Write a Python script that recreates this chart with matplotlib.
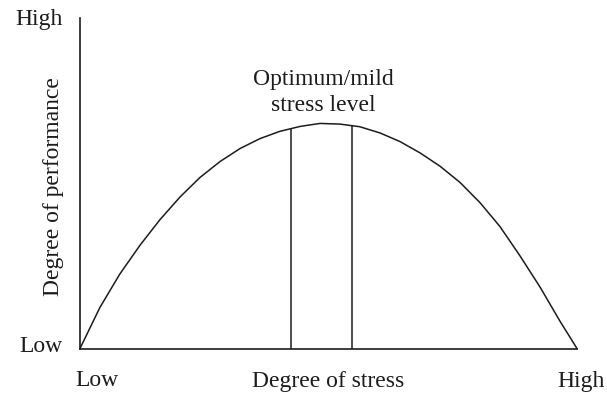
import matplotlib
matplotlib.use('Agg')
import matplotlib.pyplot as plt

W, H = 607, 396

# stress (% of axis) vs performance (% of axis), inverted-U curve
stress = [0, 4, 8, 12.1, 16.1, 20.1, 24.1, 28.2, 32.2, 36.2, 40.2, 44.3, 48.3,
          52.3, 56.3, 60.4, 64.4, 68.4, 72.4, 76.5, 80.5, 84.5, 88.5, 92.6,
          96.6, 100]
performance = [0, 12.4, 22.5, 31.3, 39.0, 45.8, 51.7, 56.6, 60.5, 63.5, 65.7,
               67.2, 68.1, 67.9, 67.1, 65.2, 62.6, 59.2, 55.2, 50.2, 44.1,
               36.9, 28.1, 18.5, 8.2, 0]

# bounds of the optimum band
optimum_stress = [42.45, 54.7]
optimum_performance = [66.4, 67.4]

ink = '#1c1c1c'
fs = 17
plt.rcParams['font.family'] = ['Liberation Serif', 'DejaVu Serif']

fig = plt.figure(figsize=(W / 100, H / 100), dpi=100)
ax = fig.add_axes([80 / W, 1 - 348.5 / H, 497 / W, 330.5 / H])
ax.set_xlim(0, 100)
ax.set_ylim(0, 100)

ax.plot(stress, performance, color=ink, lw=1.1, clip_on=False,
        solid_joinstyle='round')
ax.vlines(optimum_stress, 0, optimum_performance, color=ink, lw=1.1)

for side in ['top', 'right']:
    ax.spines[side].set_visible(False)
for side in ['left', 'bottom']:
    ax.spines[side].set_linewidth(1.2)
    ax.spines[side].set_color(ink)
ax.set_xticks([])
ax.set_yticks([])


def put(x, y, s, **kw):
    # place text by pixel position on the canvas
    fig.text(x / W, 1 - y / H, s, color=ink, fontsize=fs, **kw)


put(63, 25, 'High', ha='right', va='baseline')
put(62, 352.5, 'Low', ha='right', va='baseline')
put(53.5, 186.5, 'Degree of performance', ha='center', va='center',
    rotation=90)
put(75, 386.5, 'Low', ha='left', va='baseline')
put(328.5, 386.5, 'Degree of stress', ha='center', va='baseline')
put(605, 386.5, 'High', ha='right', va='baseline')
put(323, 84.7, 'Optimum/mild', ha='center', va='baseline')
put(323, 110.7, 'stress level', ha='center', va='baseline')

fig.savefig('out.png', dpi=100)
